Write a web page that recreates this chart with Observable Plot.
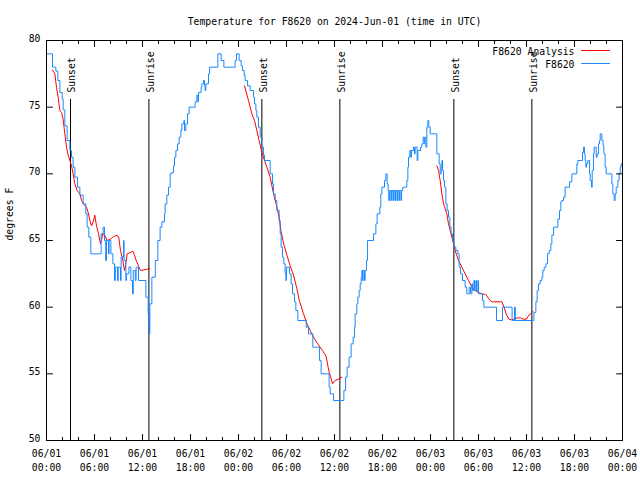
<!DOCTYPE html>
<html><head><meta charset="utf-8">
<script src="https://cdn.jsdelivr.net/npm/d3@7"></script>
<script src="https://cdn.jsdelivr.net/npm/@observablehq/plot@0.6"></script>
<style>body{margin:0;background:#fff;}</style>
</head><body><div id="chart"></div>
<script>
const titleText = "Temperature for F8620 on 2024-Jun-01 (time in UTC)";
const yLabel = "degrees F";
const xTickHours = [0, 6, 12, 18, 24, 30, 36, 42, 48, 54, 60, 66, 72];
const xTickLabels = ["06/01\n00:00","06/01\n06:00","06/01\n12:00","06/01\n18:00","06/02\n00:00","06/02\n06:00","06/02\n12:00","06/02\n18:00","06/03\n00:00","06/03\n06:00","06/03\n12:00","06/03\n18:00","06/04\n00:00"];
const xMinorHours = [2, 4, 8, 10, 14, 16, 20, 22, 26, 28, 32, 34, 38, 40, 44, 46, 50, 52, 56, 58, 62, 64, 68, 70];
const yTicks = [50, 55, 60, 65, 70, 75, 80];
const sunHours = [3.0, 12.8, 26.92, 36.67, 50.92, 60.67];
const sunLabels = ["Sunset", "Sunrise", "Sunset", "Sunrise", "Sunset", "Sunrise"];
const legendLabels = ["F8620 Analysis", "F8620"];

// Observations: [hour since 06/01 00:00 UTC, deg F]
const obsSeries = [
[0,79],[0.75,78],[1.17,77.7],[1.42,77],[1.67,76.1],[1.96,75.6],[2.08,74.8],[2.29,73.6],[2.58,72.5],[2.92,71.75],[3.13,71.25],[3.33,70.5],[3.54,69.75],[3.88,69],[4.17,68.4],[4.58,67.75],[4.92,67],[5.08,66],[5.29,65.25],[5.54,64],[6.83,65.5],[7.08,66],[7.25,65],[7.4,63.5],[7.5,65],[7.75,64],[7.83,65],[8.05,64],[8.3,63.25],[8.5,62],[8.6,63],[8.88,62],[8.96,63],[9.25,62],[9.33,63.75],[9.62,65],[9.7,63.5],[9.92,62],[10.0,62.5],[10.3,63],[10.55,62],[10.75,61],[10.85,62.75],[11.1,62],[11.2,63],[11.5,62],[12.42,60.75],[12.71,59.5],[12.83,58],[12.92,60.25],[13.17,62.25],
[13.6,63.5],[13.92,65],[14.2,66],[14.42,66.4],[14.75,67],[14.83,67.75],[15.04,68.4],[15.25,69],[15.46,70],[15.67,70.1],[15.88,70.6],[16.0,71.25],[16.17,71.75],[16.38,72.25],[16.58,72.75],[16.79,73.25],[16.92,73.75],[17.17,74],[17.25,73.25],[17.42,73.75],[17.63,74.5],[17.83,75],[18.58,75.4],[18.79,75.9],[18.92,75.4],[19.0,76.1],[19.33,76.5],[19.42,76.75],[19.63,77],[19.75,76.6],[19.83,76.25],[19.92,76.75],[20.25,77.5],[20.38,78],[21.42,79],[21.83,78.5],[22.17,78],[23.58,78.5],[23.75,79],[24.08,78.5],[24.33,78.1],[24.5,77.75],[24.71,77.4],[24.83,77],[25.13,76.6],[25.46,76.25],[25.88,75.75],[26.0,75.25],[26.17,74.75],[26.29,74.25],[26.5,73.5],[26.71,72.75],[26.92,72],[27.13,71.4],[27.25,71],
[27.96,70],[28.25,69.25],[28.38,68.5],[28.58,68],[28.79,67.25],[29.08,66.5],[29.21,65.5],[29.33,64.5],[29.5,63.75],[29.67,63.25],[29.83,62.5],[29.92,62],[30.0,63],[30.38,62.5],[30.58,61.75],[30.75,61],[31.0,60.4],[31.17,59.75],[31.42,59],[32.46,58.5],[32.75,58],[33.29,57],[34.13,56],[34.33,55],[35.33,54],[35.46,53.5],[35.88,53],
[37.17,53.75],[37.38,54.75],[37.58,55.5],[37.83,56.25],[38.08,57.25],[38.33,57.75],[38.5,58.5],[38.58,59.5],[38.79,60.25],[38.92,60.75],[39.08,61.25],[39.21,61.75],[39.33,62.25],[39.42,62.75],[39.5,62],[39.58,62.75],[39.75,62],[39.83,62.75],[40.0,63.5],[40.13,65],[40.88,65.5],[41.17,66.25],[41.33,67],[41.67,67.5],[41.79,68.5],[41.92,69],[42.25,69.5],[42.42,70],[42.58,69.25],[42.7,68.75],[42.78,68],[42.88,68.75],[43.05,68],[43.13,68.75],[43.3,68],[43.38,68.75],[43.55,68],[43.63,68.75],[43.8,68],[43.88,68.75],[44.05,68],[44.13,68.75],[44.3,68],[44.38,68.75],[44.54,69],[45.04,69.5],[45.17,70.5],[45.25,71.25],[45.42,71.75],[45.54,71.25],[45.62,71.75],[45.88,72],[46.0,71.5],[46.08,72],[46.33,71],[46.42,71.75],[46.75,72],[46.92,72.25],[47.08,72.75],[47.21,72.25],[47.29,72.75],[47.42,72],[47.54,73.5],[47.67,74],[47.79,73.5],[47.96,73],[48.79,71.5],[49.08,70.75],[49.21,70],[49.33,70.5],[49.42,71],[49.5,70.25],[49.63,69.5],[49.75,69],[49.92,67.75],[50.08,67.25],[50.25,66.75],[50.42,66],[50.58,65.5],[50.75,65],[50.92,64.5],[51.17,64.25],[51.42,64],
[51.58,63],[51.75,62.5],[52.0,62],[52.33,61.5],[52.54,61],[52.83,61.5],[53.0,61],[53.17,61.75],[53.25,61.25],[53.42,62],[53.5,61.25],[53.67,62],[53.75,61.25],[53.92,62],[54.0,61],[54.5,60.5],[54.67,60],[56.25,59],[57.0,60],[58.2,59],[58.5,60],[58.6,59],[60.92,59.6],
[61.0,59.6],[61.17,60.4],[61.33,61.25],[61.5,61.75],[61.71,62],[61.92,62.25],[62.04,62.75],[62.21,63],[62.42,63.25],[62.63,64],[62.83,64.25],[63.04,64.75],[63.17,65.4],[63.38,66],[63.92,66.6],[64.13,67.25],[64.29,67.9],[64.42,68],[64.63,68.25],[64.83,69],[65.38,69.4],[65.67,70],[66.29,70.75],[66.42,71],[67.0,71.6],[67.13,72],[67.25,71.5],[67.33,71],[67.42,70.5],[67.5,70.75],[67.67,71],[67.88,70],[67.96,69.5],[68.13,69],[68.21,70.25],[68.38,71.5],[68.46,72],[68.71,71.25],[68.83,71.5],[69.0,72.25],[69.13,72.5],[69.21,73],[69.42,72.5],[69.58,72.1],[69.67,71.5],[69.83,70.5],[69.96,70],[70.67,69.25],[70.79,68.5],[70.96,68],[71.08,68.5],[71.21,69],[71.42,69.5],[71.58,70],[71.71,70.5],[71.83,70.75],[72,70.75]
];

// Analysis, one list per night: [hour, deg F]
const analysisNight1 = [[0.75,77.8],[1.04,77.5],[1.25,76.5],[1.46,75.75],[1.67,74.75],[1.88,74.6],[2.08,74.1],[2.29,73],[2.5,72],[2.71,71.4],[2.92,71],[3.13,70.6],[3.33,70],[3.54,69.25],[3.83,68.75],[4.17,68.5],[4.38,68],[4.58,67.75],[5.0,67.5],[5.21,67.1],[5.42,66.5],[5.63,66.1],[5.83,66.4],[6.04,66.9],[6.25,66.1],[6.5,65.5],[6.75,64.75],[7.04,65.5],[7.29,65.4],[7.58,65],[8.0,65.1],[8.4,65.3],[8.83,65.4],[9.04,65.2],[9.25,64.25],[9.54,63.5],[9.75,62.75],[9.9,63.2],[10.08,64],[10.5,64.1],[10.79,64.2],[11.0,63.9],[11.21,63.5],[11.5,63.1],[11.75,62.75],[12.2,62.8],[12.6,62.85],[12.92,62.9]];
const analysisNight2 = [[24.75,76.6],[25.25,75.5],[25.67,74.5],[26.0,74],[26.29,73.25],[26.58,72.5],[26.92,71.6],[27.25,71],[27.54,70.5],[27.96,69.75],[28.38,68.5],[28.7,67.75],[29.08,66.75],[29.3,65.75],[29.63,64.8],[30.0,64],[30.46,63.1],[30.88,62.4],[31.29,61.4],[31.6,60.5],[32.13,59.5],[32.56,58.75],[32.96,58.25],[33.38,57.75],[33.9,57.25],[34.5,56.75],[34.95,56.3],[35.3,55.2],[35.5,54.8],[35.75,54.25],[36.08,54.5],[36.5,54.6],[36.92,54.75]];
const analysisNight3 = [[48.79,70.6],[49.0,70.25],[49.21,69.5],[49.42,68.5],[49.63,67.75],[49.83,67.4],[50.04,67],[50.25,66.25],[50.67,65.25],[51.08,64.25],[51.5,63.5],[51.92,63],[52.33,62.5],[52.75,62],[53.17,61.5],[53.58,61.25],[54.0,61.1],[54.42,61],[54.9,60.95],[55.46,60.5],[55.75,60.4],[56.92,60.4],[57.2,60],[57.45,59.5],[57.8,59.1],[58.1,59.05],[58.4,59.1],[58.83,59.2],[59.25,59.2],[59.6,59.1],[60.0,59.1],[60.3,59.4],[60.6,59.55],[60.83,59.7]];

const analysisSeries = [
  ...analysisNight1.map(d => ({hour: d[0], temp: d[1], night: 1})),
  ...analysisNight2.map(d => ({hour: d[0], temp: d[1], night: 2})),
  ...analysisNight3.map(d => ({hour: d[0], temp: d[1], night: 3}))
];
const obsData = obsSeries.map(d => ({hour: d[0], temp: d[1]}));

const RED = "#ff0000";
const BLUE = "#1a88ff";
const FONT = "'DejaVu Sans Mono', 'Liberation Mono', monospace";
const lineShape = {draw(context, l) { context.moveTo(0, 0); context.lineTo(0, -l); }};
const tick = (data, opts) => Plot.vector(data, {length: 6, anchor: "start", shape: lineShape, stroke: "black", strokeWidth: 1, fill: "none", ...opts});

const chart = Plot.plot({
  width: 640, height: 480,
  marginLeft: 46, marginRight: 18, marginTop: 40, marginBottom: 40,
  style: {fontFamily: FONT, fontSize: "9.75px", background: "white", color: "black", overflow: "visible"},
  x: {domain: [0, 72], axis: null},
  y: {domain: [50, 80], axis: null},
  marks: [
    // sunrise / sunset markers
    Plot.ruleX(sunHours, {x: d => d, insetTop: 59, stroke: "black", strokeWidth: 1}),
    Plot.text(sunHours, {x: d => d, text: (d, i) => sunLabels[i], frameAnchor: "top", dy: 52, dx: -2, rotate: -90, textAnchor: "start", fill: "black"}),
    // data
    Plot.line(analysisSeries, {x: "hour", y: "temp", z: "night", stroke: RED, strokeWidth: 1}),
    Plot.line(obsData, {x: "hour", y: "temp", curve: "step-after", stroke: BLUE, strokeWidth: 1}),
    Plot.frame({stroke: "black", strokeWidth: 1}),
    // ticks (inward, mirrored)
    tick(xTickHours, {x: d => d, frameAnchor: "bottom", rotate: 0}),
    tick(xTickHours, {x: d => d, frameAnchor: "top", rotate: 180}),
    tick(xMinorHours, {x: d => d, frameAnchor: "bottom", rotate: 0, length: 3}),
    tick(xMinorHours, {x: d => d, frameAnchor: "top", rotate: 180, length: 3}),
    tick(yTicks, {y: d => d, frameAnchor: "left", rotate: 90}),
    tick(yTicks, {y: d => d, frameAnchor: "right", rotate: -90}),
    // tick labels
    Plot.text(xTickHours, {x: d => d, text: (d, i) => xTickLabels[i], frameAnchor: "bottom", dy: 6.5, lineAnchor: "top", lineHeight: 1.45, fill: "black"}),
    Plot.text(yTicks, {y: d => d, text: d => String(d), frameAnchor: "left", dx: -6, dy: -1.5, textAnchor: "end", fill: "black"}),
    // axis label and title
    Plot.text([yLabel], {frameAnchor: "left", dx: -37, rotate: -90, fill: "black"}),
    Plot.text([titleText], {frameAnchor: "top", dy: -22.5, fill: "black"}),
    // legend
    Plot.text([legendLabels[0]], {frameAnchor: "top-right", dx: -48, dy: 7.5, textAnchor: "end", fill: "black"}),
    Plot.text([legendLabels[1]], {frameAnchor: "top-right", dx: -48, dy: 20.5, textAnchor: "end", fill: "black"}),
    Plot.vector([legendLabels[0]], {frameAnchor: "top-right", dx: -41, dy: 10, rotate: 90, length: 28, anchor: "start", shape: lineShape, stroke: RED, strokeWidth: 1, fill: "none"}),
    Plot.vector([legendLabels[1]], {frameAnchor: "top-right", dx: -41, dy: 23, rotate: 90, length: 28, anchor: "start", shape: lineShape, stroke: BLUE, strokeWidth: 1, fill: "none"})
  ]
});
document.getElementById("chart").appendChild(chart);
</script>
</body></html>
